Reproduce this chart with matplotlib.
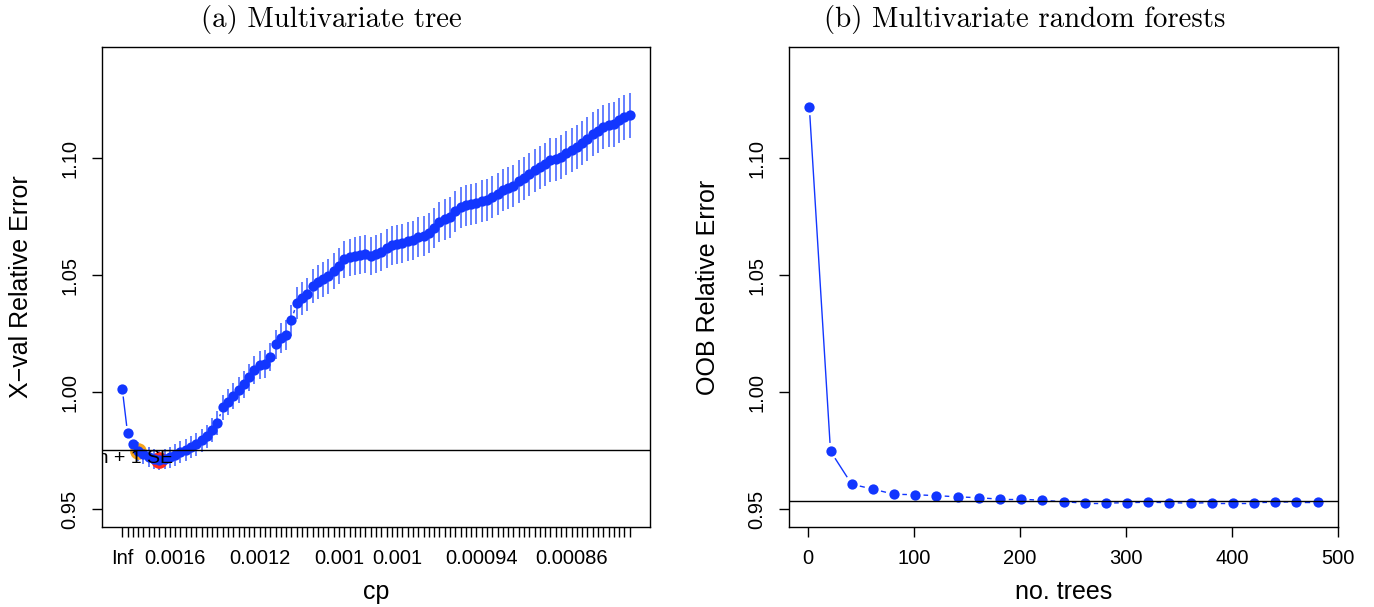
import numpy as np
import matplotlib
matplotlib.use("Agg")
import matplotlib.pyplot as plt

plt.rcParams['font.family'] = ['Liberation Sans', 'DejaVu Sans']

# ---- (a) multivariate tree: cross-validated relative error per cp ----
xerror = [
    1.0013, 0.9825, 0.9778, 0.9748, 0.9735, 0.9722, 0.9716, 0.9709, 0.9714, 0.9722,
    0.9731, 0.9744, 0.9752, 0.9765, 0.9778, 0.9795, 0.9812, 0.9838, 0.9868, 0.9936,
    0.9957, 0.9983, 1.0009, 1.0034, 1.0064, 1.0094, 1.0116, 1.0120, 1.0150, 1.0205,
    1.0231, 1.0244, 1.0308, 1.0381, 1.0402, 1.0419, 1.0453, 1.0471, 1.0483, 1.0496,
    1.0518, 1.0539, 1.0569, 1.0577, 1.0582, 1.0586, 1.0590, 1.0582, 1.0590, 1.0599,
    1.0616, 1.0629, 1.0633, 1.0637, 1.0646, 1.0650, 1.0663, 1.0667, 1.0680, 1.0701,
    1.0727, 1.0740, 1.0748, 1.0774, 1.0791, 1.0800, 1.0804, 1.0808, 1.0817, 1.0821,
    1.0834, 1.0847, 1.0864, 1.0872, 1.0881, 1.0902, 1.0915, 1.0932, 1.0949, 1.0962,
    1.0975, 1.0992, 1.0996, 1.1005, 1.1022, 1.1035, 1.1048, 1.1065, 1.1082, 1.1103,
    1.1116, 1.1133, 1.1142, 1.1146, 1.1163, 1.1176, 1.1184,
]
xstd = [
    0.0010, 0.0018, 0.0020,
    0.0040, 0.0041, 0.0042, 0.0042, 0.0043, 0.0044, 0.0045, 0.0046, 0.0046, 0.0047,
    0.0048, 0.0049, 0.0050, 0.0050, 0.0051, 0.0052, 0.0054, 0.0055, 0.0055, 0.0056,
    0.0057, 0.0058,
    0.0059, 0.0060, 0.0060, 0.0061, 0.0063, 0.0064, 0.0065, 0.0067, 0.0069, 0.0070,
    0.0071, 0.0072, 0.0073, 0.0074, 0.0075, 0.0076,
    0.0077, 0.0079, 0.0080, 0.0080, 0.0081, 0.0081, 0.0082, 0.0082, 0.0082, 0.0083,
    0.0083, 0.0083, 0.0084, 0.0084, 0.0084, 0.0085, 0.0085, 0.0085,
    0.0086, 0.0086, 0.0087, 0.0087, 0.0087, 0.0088, 0.0088, 0.0088, 0.0088, 0.0089,
    0.0089, 0.0089, 0.0090, 0.0090, 0.0090, 0.0090, 0.0091, 0.0091, 0.0091, 0.0092,
    0.0092, 0.0092, 0.0093, 0.0093, 0.0093, 0.0093, 0.0094, 0.0094, 0.0094, 0.0094,
    0.0095, 0.0095, 0.0095, 0.0095, 0.0096, 0.0096, 0.0096, 0.0096,
]
cp_label_pos = [1, 11, 27, 42, 53, 69, 86]
cp_labels = ["Inf", "0.0016", "0.0012", "0.001", "0.001", "0.00094", "0.00086"]
min_idx = 8        # red: minimum xerror
se_idx = 4         # orange: smallest tree within 1 SE
one_se_line = 0.9752

# ---- (b) multivariate random forests: OOB error vs number of trees ----
ntrees = [1, 21, 41, 61, 81, 101, 121, 141, 161, 181, 201, 221, 241,
          261, 281, 301, 321, 341, 361, 381, 401, 421, 441, 461, 481]
oob_err = [1.1220, 0.9748, 0.9607, 0.9586, 0.9564, 0.9562, 0.9558, 0.9553,
           0.9549, 0.9543, 0.9543, 0.9538, 0.9532, 0.9526, 0.9526, 0.9528,
           0.9530, 0.9528, 0.9526, 0.9528, 0.9528, 0.9528, 0.9530, 0.9532, 0.9532]
oob_line = 0.9535

BLUE = "#1236ff"
BAR = "#3a5cff"
ylim = (0.9424, 1.1476)
yticks = [0.95, 1.00, 1.05, 1.10]

fig = plt.figure(figsize=(13.74, 6.07), dpi=100)
ax1 = fig.add_axes([102 / 1374, 80 / 607, 548 / 1374, 480 / 607])
ax2 = fig.add_axes([789 / 1374, 80 / 607, 549 / 1374, 480 / 607])


def gapped_line(ax, x, y, gap=8, **kw):
    # R style type="b": segments stop short of the points
    pts = ax.transData.transform(np.column_stack([x, y]))
    inv = ax.transData.inverted()
    for p, q in zip(pts[:-1], pts[1:]):
        d = q - p
        L = np.hypot(*d)
        if L <= 2 * gap:
            continue
        u = d / L
        seg = inv.transform(np.array([p + u * gap, q - u * gap]))
        ax.plot(seg[:, 0], seg[:, 1], color=BLUE, lw=1.0, zorder=2)


def style(ax):
    for s in ax.spines.values():
        s.set_linewidth(1.0)
    ax.set_ylim(*ylim)
    ax.set_yticks(yticks)
    ax.set_yticklabels(["%.2f" % v for v in yticks], rotation=90, va="center")
    ax.tick_params(axis="both", direction="out", length=7.5, width=1.0,
                   labelsize=14.5, colors="black")
    ax.tick_params(axis="y", pad=9)
    ax.tick_params(axis="x", pad=8)


# panel (a)
idx = np.arange(1, len(xerror) + 1)
ax1.set_xlim(1 - 0.04 * (len(idx) - 1), len(idx) + 0.04 * (len(idx) - 1))
style(ax1)
ax1.set_xticks(idx)
ax1.set_xticklabels([cp_labels[cp_label_pos.index(i)] if i in cp_label_pos else ""
                     for i in idx])
ax1.vlines(idx, np.array(xerror) - np.array(xstd), np.array(xerror) + np.array(xstd),
           color=BAR, lw=1.1, zorder=2)
ax1.plot(idx[se_idx - 1], xerror[se_idx - 1], "o", color="#f5a31a", ms=12, mec="none", zorder=2.5)
ax1.plot(idx[min_idx - 1], xerror[min_idx - 1], "o", color="#ff2a1a", ms=12, mec="none", zorder=2.5)
gapped_line(ax1, idx, xerror)
ax1.plot(idx, xerror, "o", color=BLUE, ms=7.4, mec="none", zorder=3)
ax1.axhline(one_se_line, color="black", lw=1.0, zorder=4)
ax1.text(10.5, one_se_line + 0.0003, "min + 1 SE", ha="right", va="top", fontsize=14,
         clip_on=True, zorder=5)
ax1.set_xlabel("cp", fontsize=18)
ax1.set_ylabel("X\u2212val Relative Error", fontsize=18)
ax1.xaxis.set_label_coords(0.5, -0.11)
ax1.yaxis.set_label_coords(-0.126, 0.5)

# panel (b)
ax2.set_xlim(ntrees[0] - 0.04 * (ntrees[-1] - ntrees[0]), ntrees[-1] + 0.04 * (ntrees[-1] - ntrees[0]))
style(ax2)
ax2.set_xticks([0, 100, 200, 300, 400, 500])
gapped_line(ax2, ntrees, oob_err, gap=9)
ax2.plot(ntrees, oob_err, "o", color=BLUE, ms=7.4, mec="none", zorder=3)
ax2.axhline(oob_line, color="black", lw=1.0, zorder=4)
ax2.set_xlabel("no. trees", fontsize=18)
ax2.set_ylabel("OOB Relative Error", fontsize=18)
ax2.xaxis.set_label_coords(0.5, -0.11)
ax2.yaxis.set_label_coords(-0.1257, 0.5)

fig.text(331.5 / 1374, 1 - 27 / 607, "(a) Multivariate tree", family="cmr10",
         fontsize=20.8, ha="center", va="baseline")
fig.text(1024.5 / 1374, 1 - 27 / 607, "(b) Multivariate random forests", family="cmr10",
         fontsize=20.8, ha="center", va="baseline")

fig.savefig("out.png", dpi=100)
